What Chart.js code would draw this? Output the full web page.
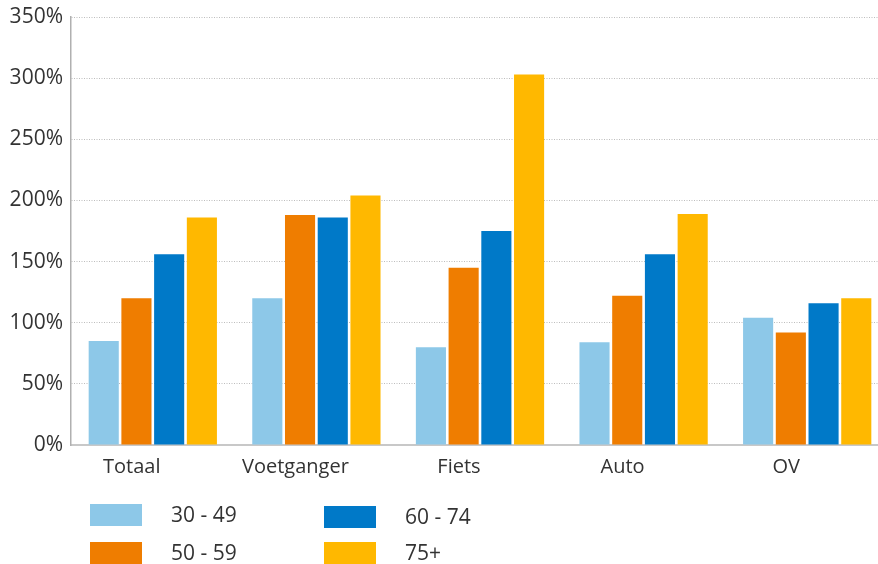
<!DOCTYPE html>
<html>
<head>
<meta charset="utf-8">
<script src="https://cdn.jsdelivr.net/npm/chart.js@4.4.1/dist/chart.umd.min.js"></script>
<style>
html,body{margin:0;padding:0;background:#fff;overflow:hidden;}
#wrap{width:878px;height:564px;position:relative;overflow:hidden;}
canvas{display:block;}
</style>
</head>
<body>
<div id="wrap"><canvas id="c" width="889" height="564"></canvas></div>
<script>
const categories = ['Totaal', 'Voetganger', 'Fiets', 'Auto', 'OV'];
const seriesLabels = ['30 - 49', '50 - 59', '60 - 74', '75+'];
const s30_49 = [85, 120, 80, 84, 104];
const s50_59 = [120, 188, 145, 122, 92];
const s60_74 = [156, 186, 175, 156, 116];
const s75plus = [186, 204, 303, 189, 120];
const yTicks = [0, 50, 100, 150, 200, 250, 300, 350];
const colors = ['#8DC8E8', '#EF7D00', '#0079C8', '#FFB800'];
const values = [s30_49, s50_59, s60_74, s75plus];

const FONT = "'Open Sans', 'Noto Sans', sans-serif";
const TXT = '#333333';

const legendPlugin = {
  id: 'customLegend',
  afterDraw(chart) {
    const ctx = chart.ctx;
    const pos = [
      {x: 90, y: 504}, {x: 90, y: 542},
      {x: 324, y: 506}, {x: 324, y: 542}
    ];
    ctx.save();
    chart.data.datasets.forEach((ds, i) => {
      const p = pos[i];
      ctx.fillStyle = ds.backgroundColor;
      ctx.fillRect(p.x, p.y, 52, 22);
      ctx.fillStyle = TXT;
      ctx.font = "21px " + FONT;
      ctx.textBaseline = 'middle';
      ctx.textAlign = 'left';
      ctx.fillText(ds.label, p.x + 81, p.y + 12);
    });
    ctx.restore();
  }
};

new Chart(document.getElementById('c'), {
  type: 'bar',
  data: {
    labels: categories,
    datasets: seriesLabels.map((l, i) => ({
      label: l,
      data: values[i],
      backgroundColor: colors[i],
      borderWidth: 0,
      categoryPercentage: 0.8,
      barPercentage: 0.92
    }))
  },
  options: {
    responsive: false,
    animation: false,
    layout: {padding: {top: 17, right: 0, left: 0, bottom: 79}},
    plugins: {legend: {display: false}, tooltip: {enabled: false}},
    scales: {
      x: {
        grid: {display: false, drawTicks: false},
        border: {display: true, color: '#c8c8c8', width: 2},
        ticks: {color: TXT, font: {size: 20, family: FONT}, padding: 10, labelOffset: -21},
        afterFit(s) { s.height = 40; }
      },
      y: {
        min: 0, max: 350,
        afterBuildTicks(s) { s.ticks = yTicks.map(v => ({value: v})); },
        grid: {color: '#bdbdbd', lineWidth: 1, drawTicks: false},
        border: {display: true, color: '#b0b0b0', width: 1.5, dash: [1, 1.5]},
        ticks: {color: TXT, font: {size: 21, family: FONT, lineHeight: 0.7}, padding: 8, callback: v => v + '%'},
        afterFit(s) { s.width = 71; }
      }
    }
  },
  plugins: [legendPlugin]
});
</script>
</body>
</html>
